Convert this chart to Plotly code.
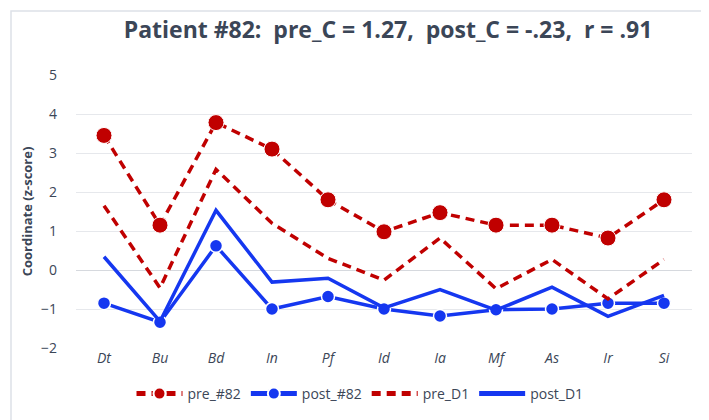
import plotly.graph_objects as go

categories = ["Dt", "Bu", "Bd", "In", "Pf", "Id", "Ia", "Mf", "As", "Ir", "Si"]
pre_82 = [3.45, 1.15, 3.78, 3.10, 1.80, 0.98, 1.47, 1.15, 1.15, 0.82, 1.80]
post_82 = [-0.85, -1.34, 0.62, -1.00, -0.68, -1.00, -1.18, -1.02, -1.00, -0.85, -0.85]
pre_D1 = [1.65, -0.46, 2.58, 1.20, 0.30, -0.26, 0.82, -0.48, 0.27, -0.74, 0.27]
post_D1 = [0.34, -1.32, 1.53, -0.31, -0.21, -0.97, -0.50, -1.03, -0.44, -1.19, -0.65]

RED = "#c00000"
BLUE = "#1537f0"
TXT = "#3b4657"

fig = go.Figure()
fig.add_trace(go.Scatter(x=categories, y=pre_82, name="pre_#82", mode="lines+markers",
                         line=dict(color=RED, width=3.5, dash="9px,6px"),
                         marker=dict(size=16, color=RED, line=dict(color="white", width=1))))
fig.add_trace(go.Scatter(x=categories, y=post_82, name="post_#82", mode="lines+markers",
                         line=dict(color=BLUE, width=3.5),
                         marker=dict(size=13, color=BLUE, line=dict(color="white", width=1.5))))
fig.add_trace(go.Scatter(x=categories, y=pre_D1, name="pre_D1", mode="lines",
                         line=dict(color=RED, width=3.5, dash="9px,6px")))
fig.add_trace(go.Scatter(x=categories, y=post_D1, name="post_D1", mode="lines",
                         line=dict(color=BLUE, width=3.5)))

W, H = 709, 420
ml, mr, mt, mb = 68, 25, 67, 80
pw, ph = W - ml - mr, H - mt - mb

fig.update_layout(
    width=W, height=H,
    margin=dict(l=ml, r=mr, t=mt, b=mb),
    paper_bgcolor="white", plot_bgcolor="white",
    title=dict(text="<b>Patient #82:  pre_C = 1.27,  post_C = -.23,  r = .91</b>",
               x=380 / W, xanchor="center", y=1 - 22 / H, yanchor="middle",
               font=dict(family="Open Sans", size=23, color=TXT)),
    showlegend=True,
    legend=dict(orientation="h", x=(352 - ml) / pw, xanchor="center", y=-(386 - (mt + ph)) / ph,
                yanchor="middle", font=dict(family="Open Sans", size=14, color=TXT),
                itemsizing="constant", itemwidth=46, tracegroupgap=0),
    xaxis=dict(showgrid=False, tickfont=dict(family="Open Sans", size=14, color=TXT, style="italic"),
               ticks="", showline=False, zeroline=False, range=[-0.5, 10.5]),
    yaxis=dict(range=[-2, 5], dtick=1, showgrid=True, gridcolor="#e6e8ec", gridwidth=1,
               zeroline=True, zerolinecolor="#d6d9de", zerolinewidth=1,
               tickfont=dict(family="Open Sans", size=14, color=TXT), ticks="", ticklabelstandoff=18,
               title=dict(text="<b>Coordinate (z-score)</b>",
                          font=dict(family="Open Sans", size=13, color=TXT), standoff=5)),
    shapes=[dict(type="rect", xref="paper", yref="paper",
                 x0=(3 - ml) / pw, x1=(W - 4 - ml) / pw,
                 y0=-(H - 4 - mt - ph) / ph, y1=1 + (mt - 3) / ph,
                 line=dict(color="#dde1e8", width=1.5), layer="below")],
)

fig.write_html("out.html")
